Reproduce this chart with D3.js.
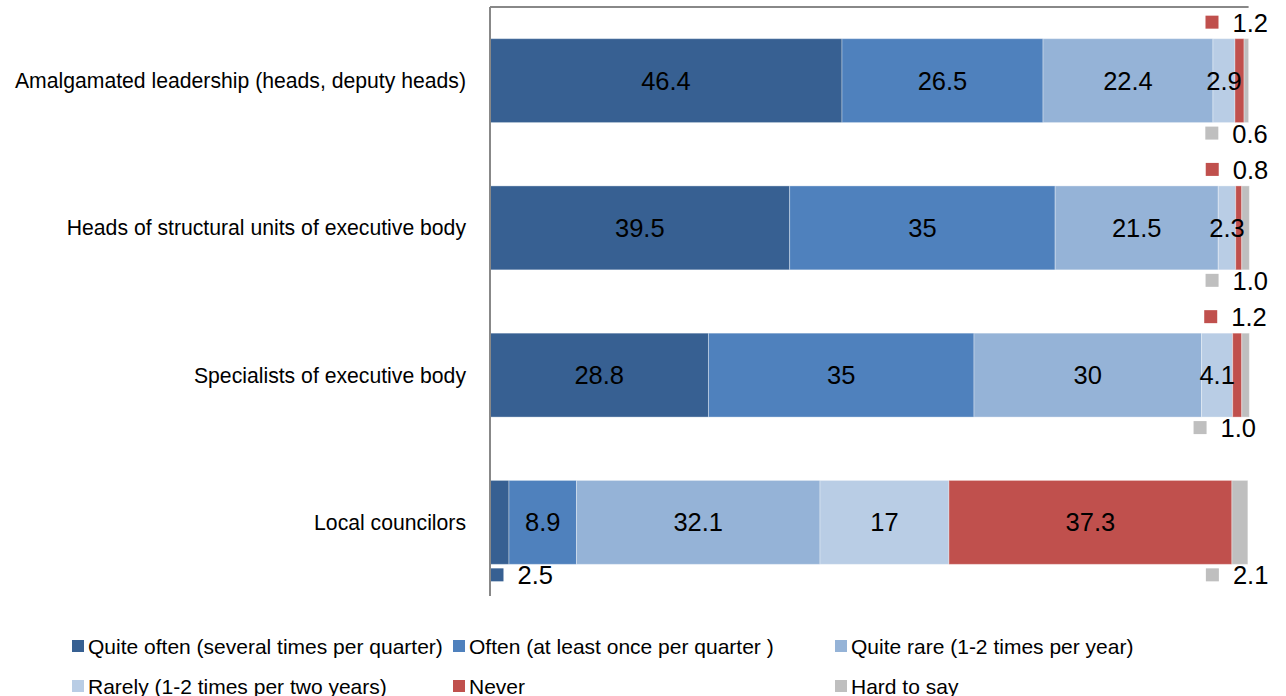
<!DOCTYPE html>
<html><head><meta charset="utf-8">
<script src="https://cdn.jsdelivr.net/npm/d3@7"></script>
<style>body{margin:0;background:#fff}svg{display:block;font-family:"Liberation Sans",Arial,sans-serif}</style>
</head><body><svg id="c" width="1286" height="696"></svg>
<script>
const categories = ["Amalgamated leadership (heads, deputy heads)","Heads of structural units of executive body","Specialists of executive body","Local councilors"];
const seriesNames = ["Quite often (several times per quarter)","Often (at least once per quarter )","Quite rare (1-2 times per year)","Rarely (1-2 times per two years)","Never","Hard to say"];
const seriesColors = ["#376092","#4F81BD","#95B3D7","#B9CDE5","#C0504D","#BFBFBF"];
const quiteOften = [46.4, 39.5, 28.8, 2.5];
const often = [26.5, 35, 35, 8.9];
const quiteRare = [22.4, 21.5, 30, 32.1];
const rarely = [2.9, 2.3, 4.1, 17];
const never = [1.2, 0.8, 1.2, 37.3];
const hardToSay = [0.6, 1.0, 1.0, 2.1];
const labelText = [
  ["46.4","39.5","28.8","2.5"],
  ["26.5","35","35","8.9"],
  ["22.4","21.5","30","32.1"],
  ["2.9","2.3","4.1","17"],
  ["1.2","0.8","1.2","37.3"],
  ["0.6","1.0","1.0","2.1"]
];
// outside labels: [series, category, side, dx from segment center]
const outside = [[4,0,"above",-34],[5,0,"below",-41],[4,1,"above",-33],[5,1,"below",-40],[4,2,"above",-33],[5,2,"below",-52],[0,3,"below",-9],[5,3,"below",-34]];

const svg = d3.select("#c");
const series = [quiteOften, often, quiteRare, rarely, never, hardToSay];
const m = {left:490, right:1248.6, top:7, bottom:596};
const x = d3.scaleLinear().domain([0,100]).range([m.left, m.right]);
const y = d3.scaleBand().domain(categories).range([m.top, m.bottom]).paddingInner(0.43).paddingOuter(0.215);

const data = categories.map((c,i)=>{ let acc=0; return series.map((s,k)=>{const d={cat:c,ci:i,k,x0:acc,x1:acc+s[i],v:s[i]}; acc+=s[i]; return d;}); }).flat();

svg.append("g").selectAll("rect").data(data).join("rect")
  .attr("x",d=>x(d.x0)).attr("width",d=>x(d.x1)-x(d.x0))
  .attr("y",d=>y(d.cat)).attr("height",y.bandwidth())
  .attr("fill",d=>seriesColors[d.k]).attr("stroke","rgba(255,255,255,0.35)").attr("stroke-width",1);

const isOut = (k,i)=>outside.some(o=>o[0]===k&&o[1]===i);
svg.append("g").selectAll("text").data(data.filter(d=>!isOut(d.k,d.ci))).join("text")
  .attr("x",d=>(x(d.x0)+x(d.x1))/2).attr("y",d=>y(d.cat)+y.bandwidth()/2)
  .attr("text-anchor","middle").attr("dominant-baseline","central")
  .attr("font-size",25.5).attr("fill","#000").text(d=>labelText[d.k][d.ci]);

const og = svg.append("g");
outside.forEach(([k,i,side,dx])=>{
  const d = data.find(e=>e.k===k&&e.ci===i);
  const cx = (x(d.x0)+x(d.x1))/2 + dx;
  const cy = side==="above" ? y(d.cat)-16 : y(d.cat)+y.bandwidth()+11;
  og.append("rect").attr("x",cx).attr("y",cy-7).attr("width",13).attr("height",13).attr("fill",seriesColors[k]);
  og.append("text").attr("x",cx+27).attr("y",cy).attr("dominant-baseline","central").attr("font-size",25.5).text(labelText[k][i]);
});

// axis
svg.append("line").attr("x1",m.left).attr("x2",m.left).attr("y1",m.top).attr("y2",m.bottom).attr("stroke","#888").attr("stroke-width",2);
svg.append("line").attr("x1",m.left).attr("x2",m.right).attr("y1",m.top).attr("y2",m.top).attr("stroke","#888").attr("stroke-width",2);

svg.append("g").selectAll("text").data(categories).join("text")
  .attr("x",466).attr("y",d=>y(d)+y.bandwidth()/2).attr("text-anchor","end").attr("dominant-baseline","central")
  .attr("font-size",21.2).text(d=>d);

// legend
const lx=[72,453,835], ly=[646,686];
const lg = svg.append("g").selectAll("g").data(seriesNames).join("g")
  .attr("transform",(d,i)=>`translate(${lx[i%3]},${ly[Math.floor(i/3)]})`);
lg.append("rect").attr("x",0).attr("y",-6).attr("width",12).attr("height",12).attr("fill",(d,i)=>seriesColors[i]);
lg.append("text").attr("x",16).attr("y",0).attr("dominant-baseline","central").attr("font-size",21).text(d=>d);
</script></body></html>
